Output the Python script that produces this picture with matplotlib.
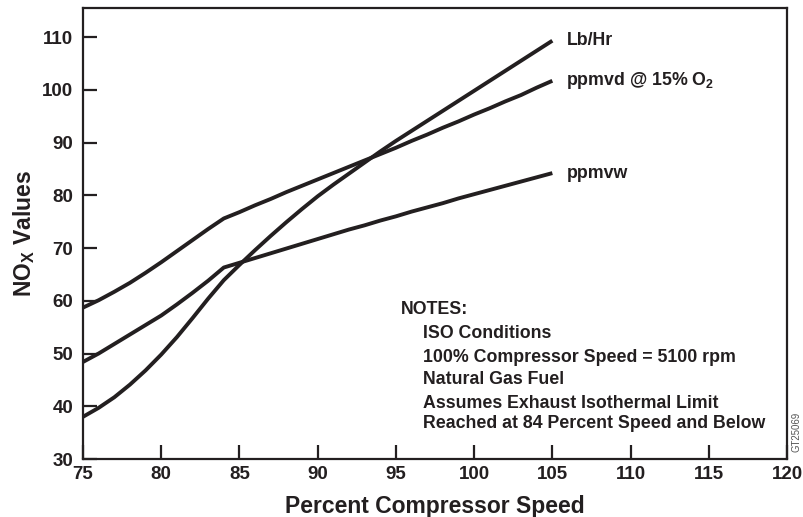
import numpy as np
import matplotlib
matplotlib.use('Agg')
import matplotlib.pyplot as plt

plt.rcParams['font.family'] = ['Liberation Sans', 'DejaVu Sans']
plt.rcParams['font.weight'] = 'bold'
plt.rcParams['mathtext.fontset'] = 'custom'
plt.rcParams['mathtext.rm'] = 'Liberation Sans:bold'
plt.rcParams['mathtext.bf'] = 'Liberation Sans:bold'
plt.rcParams['mathtext.it'] = 'Liberation Sans:bold'

ink = '#231f20'

# percent compressor speed (x values)
speed = [75, 76, 77, 78, 79, 80, 81, 82, 83, 84, 85, 86, 87, 88, 89, 90,
         91, 92, 93, 94, 95, 96, 97, 98, 99, 100, 101, 102, 103, 104, 105]

lb_hr = [38.0, 39.7, 41.7, 44.1, 46.8, 49.8, 53.1, 56.7, 60.4, 63.9, 66.8,
         69.6, 72.3, 74.9, 77.4, 79.8, 82.0, 84.1, 86.2, 88.3, 90.3, 92.2,
         94.1, 96.0, 97.9, 99.8, 101.7, 103.6, 105.5, 107.4, 109.3]

ppmvd = [58.7, 60.1, 61.7, 63.4, 65.3, 67.3, 69.4, 71.5, 73.6, 75.6, 76.8,
         78.1, 79.3, 80.6, 81.8, 83.0, 84.2, 85.4, 86.6, 87.8, 89.0, 90.3,
         91.5, 92.8, 94.0, 95.3, 96.5, 97.8, 99.0, 100.4, 101.7]

ppmvw = [48.4, 50.0, 51.8, 53.6, 55.4, 57.2, 59.3, 61.5, 63.8, 66.3, 67.2,
         68.1, 69.0, 69.9, 70.8, 71.7, 72.6, 73.5, 74.3, 75.2, 76.0, 76.9,
         77.7, 78.5, 79.4, 80.2, 81.0, 81.8, 82.6, 83.4, 84.2]

series = [('Lb/Hr', lb_hr),
          (r'ppmvd @ 15% O$_{\mathbf{2}}$', ppmvd),
          ('ppmvw', ppmvw)]

notes = ['ISO Conditions',
         '100% Compressor Speed = 5100 rpm',
         'Natural Gas Fuel',
         'Assumes Exhaust Isothermal Limit',
         'Reached at 84 Percent Speed and Below']

xticks = [75, 80, 85, 90, 95, 100, 105, 110, 115, 120]
yticks = [30, 40, 50, 60, 70, 80, 90, 100, 110]

W, H = 804, 517
fig = plt.figure(figsize=(W / 100, H / 100), dpi=100)
ax = fig.add_axes([83 / W, 1 - 459 / H, (787 - 83) / W, (459 - 8) / H])

for lab, vals in series:
    ax.plot(speed, vals, '-', color=ink, lw=2.8, solid_joinstyle='round',
            solid_capstyle='butt', clip_on=False)
    ax.text(105.9, vals[-1], lab, fontsize=12.8, fontweight='bold',
            color=ink, va='center', ha='left')

ax.set_xlim(75, 120)
ax.set_ylim(30, 115.5)
ax.set_xticks(xticks)
ax.set_yticks(yticks)
ax.tick_params(direction='in', length=10, width=1.6, color=ink,
               labelsize=13.5, labelcolor=ink)
ax.tick_params(axis='x', pad=5)
ax.tick_params(axis='y', pad=7)
for t in ax.get_xticklabels() + ax.get_yticklabels():
    t.set_fontweight('bold')
for s in ax.spines.values():
    s.set_linewidth(1.6)
    s.set_color(ink)

ax.set_xlabel('Percent Compressor Speed', fontsize=16.5, fontweight='bold',
              color=ink, labelpad=9)
ax.set_ylabel(r'NO$_{\mathbf{X}}$ Values', fontsize=16.5, fontweight='bold',
              color=ink, labelpad=4)

# notes block
fig.text(401 / W, 1 - 310 / H, 'NOTES:', fontsize=12.8, fontweight='bold',
         color=ink, va='center', ha='left')
note_y = [333, 357, 380, 404, 423]
for ny, txt in zip(note_y, notes):
    fig.text(423 / W, 1 - ny / H, txt, fontsize=12.8, fontweight='bold',
             color=ink, va='center', ha='left')

fig.text(797 / W, 1 - 432 / H, 'GT25069', fontsize=6.9, fontweight='normal',
         color='#555555', rotation=90, va='center', ha='center')

fig.savefig('out.png', dpi=100)
